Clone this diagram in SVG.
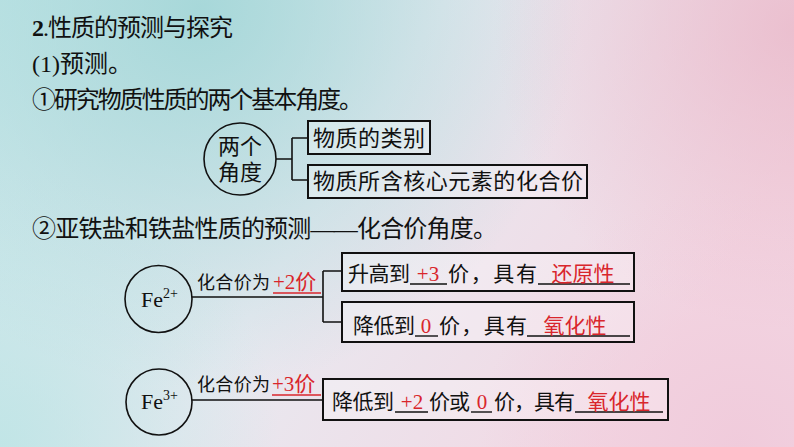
<svg xmlns="http://www.w3.org/2000/svg" width="794" height="447" viewBox="0 0 794 447">
<defs>
<linearGradient id="bg" x1="0" y1="0" x2="1" y2="0.35">
<stop offset="0" stop-color="#c6e7e9"/>
<stop offset="0.5" stop-color="#e8e9f0"/>
<stop offset="1" stop-color="#f3d7e3"/>
</linearGradient>
<radialGradient id="tl" cx="200" cy="10" r="380" gradientUnits="userSpaceOnUse">
<stop offset="0" stop-color="#9fd5d6" stop-opacity="0.85"/>
<stop offset="1" stop-color="#9fd5d6" stop-opacity="0"/>
</radialGradient>
<radialGradient id="tr" cx="794" cy="30" r="300" gradientUnits="userSpaceOnUse">
<stop offset="0" stop-color="#e9b7c8" stop-opacity="0.75"/>
<stop offset="1" stop-color="#e9b7c8" stop-opacity="0"/>
</radialGradient>
<radialGradient id="bl" cx="0" cy="447" r="280" gradientUnits="userSpaceOnUse">
<stop offset="0" stop-color="#b8e4e4" stop-opacity="0.75"/>
<stop offset="1" stop-color="#b8e4e4" stop-opacity="0"/>
</radialGradient>
<radialGradient id="br" cx="740" cy="447" r="260" gradientUnits="userSpaceOnUse">
<stop offset="0" stop-color="#efc6d8" stop-opacity="0.7"/>
<stop offset="1" stop-color="#efc6d8" stop-opacity="0"/>
</radialGradient>
<style>
text{font-family:"Liberation Serif","Noto Sans CJK SC",serif;fill:#111}
.red{fill:#d9262c}
.box{fill:#ffffff;fill-opacity:0.28;stroke:#111;stroke-width:2}
.circ{fill:none;stroke:#111;stroke-width:1.6}
.ln{stroke:#111;stroke-width:1.6;fill:none}
.ul{stroke:#111;stroke-width:1.4}
.rul{stroke:#d9262c;stroke-width:1.4}
</style>
</defs>
<rect width="794" height="447" fill="url(#bg)"/>
<rect width="794" height="447" fill="url(#tl)"/>
<rect width="794" height="447" fill="url(#tr)"/>
<rect width="794" height="447" fill="url(#bl)"/>
<rect width="794" height="447" fill="url(#br)"/>

<g id="headings">
<text x="32" y="36" font-size="24" textLength="201" lengthAdjust="spacing"><tspan font-weight="bold">2</tspan>.性质的预测与探究</text>
<text x="32" y="72" font-size="24">(1)预测。</text>
<text x="32" y="108" font-size="24" textLength="331" lengthAdjust="spacing">①研究物质性质的两个基本角度。</text>
<text x="32" y="237" font-size="24" textLength="465" lengthAdjust="spacing">②亚铁盐和铁盐性质的预测——化合价角度。</text>
</g>

<g id="connectors">
<path class="ln" d="M276 159 H292 M292 138 V180 M292 138 H307 M292 180 H307"/>
<path class="ln" d="M192 297 H323 M323 271 V322 M323 271 H342 M323 322 H342"/>
<path class="ln" d="M192 400 H323"/>
</g>

<g id="angles">
<circle class="circ" cx="240" cy="159" r="36"/>
<text x="240" y="154" font-size="22" text-anchor="middle">两个</text>
<text x="240" y="180" font-size="22" text-anchor="middle">角度</text>
</g>
<g id="category">
<rect class="box" x="308" y="121" width="122" height="33"/>
<text x="313" y="146" font-size="22" textLength="112" lengthAdjust="spacing">物质的类别</text>
</g>
<g id="valence">
<rect class="box" x="308" y="165" width="279" height="33"/>
<text x="313" y="189" font-size="22" textLength="270" lengthAdjust="spacing">物质所含核心元素的化合价</text>
</g>

<g id="fe2">
<circle class="circ" cx="158.5" cy="299" r="33.5"/>
<text x="141" y="307" font-size="22">Fe<tspan font-size="14" dy="-9">2+</tspan></text>
</g>
<g id="fe2-label">
<text x="197" y="289" font-size="18" textLength="73" lengthAdjust="spacing">化合价为</text>
<text class="red" x="273" y="289" font-size="21">+2价</text>
<line class="rul" x1="273" y1="293" x2="321" y2="293"/>
</g>
<g id="fe2-up">
<rect class="box" x="342" y="253" width="292" height="38"/>
<text x="348" y="281" font-size="21" textLength="62" lengthAdjust="spacing">升高到</text>
<line class="ul" x1="410" y1="284" x2="447" y2="284"/>
<text class="red" x="428" y="281" font-size="21" text-anchor="middle">+3</text>
<text x="448" y="281" font-size="21" textLength="89" lengthAdjust="spacing">价，具有</text>
<line class="ul" x1="538" y1="284" x2="630" y2="284"/>
<text class="red" x="583" y="281" font-size="21" text-anchor="middle">还原性</text>
</g>
<g id="fe2-down">
<rect class="box" x="342" y="302" width="292" height="40"/>
<text x="353" y="333" font-size="21" textLength="62" lengthAdjust="spacing">降低到</text>
<line class="ul" x1="415" y1="336" x2="438" y2="336"/>
<text class="red" x="426" y="333" font-size="21" text-anchor="middle">0</text>
<text x="439" y="333" font-size="21" textLength="88" lengthAdjust="spacing">价，具有</text>
<line class="ul" x1="527" y1="336" x2="630" y2="336"/>
<text class="red" x="575" y="333" font-size="21" text-anchor="middle">氧化性</text>
</g>

<g id="fe3">
<circle class="circ" cx="159" cy="402" r="33"/>
<text x="141" y="409" font-size="22">Fe<tspan font-size="14" dy="-9">3+</tspan></text>
</g>
<g id="fe3-label">
<text x="197" y="391" font-size="18" textLength="73" lengthAdjust="spacing">化合价为</text>
<text class="red" x="272" y="391" font-size="21">+3价</text>
<line class="rul" x1="272" y1="395" x2="321" y2="395"/>
</g>
<g id="fe3-down">
<rect class="box" x="323" y="379" width="345" height="41"/>
<text x="332" y="409" font-size="21" textLength="62" lengthAdjust="spacing">降低到</text>
<line class="ul" x1="395" y1="412" x2="428" y2="412"/>
<text class="red" x="412" y="409" font-size="21" text-anchor="middle">+2</text>
<text x="429" y="409" font-size="21" textLength="41" lengthAdjust="spacing">价或</text>
<line class="ul" x1="471" y1="412" x2="492" y2="412"/>
<text class="red" x="482" y="409" font-size="21" text-anchor="middle">0</text>
<text x="494" y="409" font-size="21" textLength="81" lengthAdjust="spacing">价，具有</text>
<line class="ul" x1="575" y1="412" x2="663" y2="412"/>
<text class="red" x="619" y="409" font-size="21" text-anchor="middle">氧化性</text>
</g>
</svg>
